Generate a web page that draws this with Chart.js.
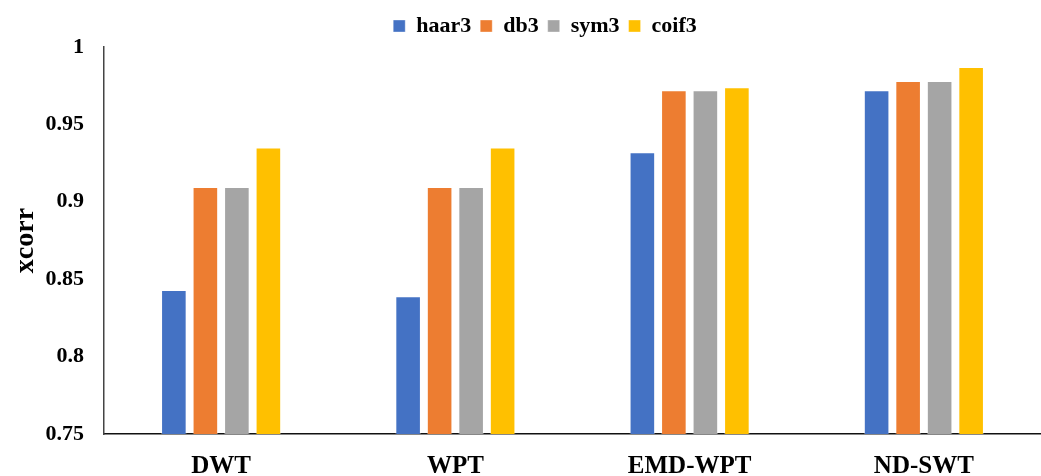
<!DOCTYPE html>
<html>
<head>
<meta charset="utf-8">
<script src="https://cdn.jsdelivr.net/npm/chart.js@4/dist/chart.umd.min.js"></script>
<style>
  html, body { margin: 0; padding: 0; background: #fff; }
  #wrap { width: 1041px; height: 476px; }
</style>
</head>
<body>
<div id="wrap"><canvas id="xcorrChart"></canvas></div>
<script>
const categories = ['DWT', 'WPT', 'EMD-WPT', 'ND-SWT'];
const haar3 = [0.843, 0.839, 0.932, 0.972];
const db3 = [0.9095, 0.9095, 0.972, 0.978];
const sym3 = [0.9095, 0.9095, 0.972, 0.978];
const coif3 = [0.935, 0.935, 0.974, 0.987];
const yTicks = [0.75, 0.8, 0.85, 0.9, 0.95, 1];

const fontFamily = '"Liberation Serif", "Times New Roman", serif';

function series(label, values, color) {
    return {
        label: label,
        data: values,
        backgroundColor: color,
        borderColor: 'rgba(255,255,255,0.35)',
        borderWidth: 1,
        barPercentage: 0.8125,
        categoryPercentage: 0.538
    }
}

// legend sits a bit right of the canvas centre in the original
const legendShift = {
    id: 'legendShift',
    afterLayout(chart) {
        chart.legend.left += 10
        chart.legend.right += 10
    }
}

const ctx = document.getElementById('xcorrChart');
new Chart(ctx, {
    type: 'bar',
    data: {
        labels: categories,
        datasets: [
            series('haar3', haar3, '#4472C4'),
            series('db3', db3, '#ED7D31'),
            series('sym3', sym3, '#A5A5A5'),
            series('coif3', coif3, '#FFC000')
        ]
    },
    plugins: [legendShift],
    options: {
        responsive: true,
        maintainAspectRatio: false,
        animation: false,
        layout: {
            padding: { top: 6, right: -15, bottom: 0, left: 14 }
        },
        plugins: {
            legend: {
                position: 'top',
                labels: {
                    boxWidth: 12,
                    boxHeight: 12,
                    padding: 9,
                    color: '#000',
                    font: { family: fontFamily, size: 22, weight: 'bold' }
                }
            },
            tooltip: { enabled: false }
        },
        scales: {
            x: {
                afterFit: (axis) => { axis.height = 42 },
                grid: { display: false, drawTicks: false },
                border: { color: '#111', width: 1.5 },
                ticks: {
                    color: '#000',
                    padding: 18,
                    font: { family: fontFamily, size: 25, weight: 'bold' }
                }
            },
            y: {
                min: 0.75,
                max: 1,
                afterFit: (axis) => { axis.width = 90 },
                afterBuildTicks: (axis) => {
                    axis.ticks = yTicks.map(v => ({ value: v }))
                },
                grid: { display: false, drawTicks: false },
                border: { color: '#444', width: 1.5 },
                title: {
                    display: true,
                    text: 'xcorr',
                    color: '#000',
                    padding: { top: -2, bottom: 8 },
                    font: { family: fontFamily, size: 28, weight: 'bold', lineHeight: 1 }
                },
                ticks: {
                    color: '#000',
                    padding: 20,
                    callback: (v) => String(+v.toFixed(2)),
                    font: { family: fontFamily, size: 22, weight: 'bold' }
                }
            }
        }
    }
});
</script>
</body>
</html>
